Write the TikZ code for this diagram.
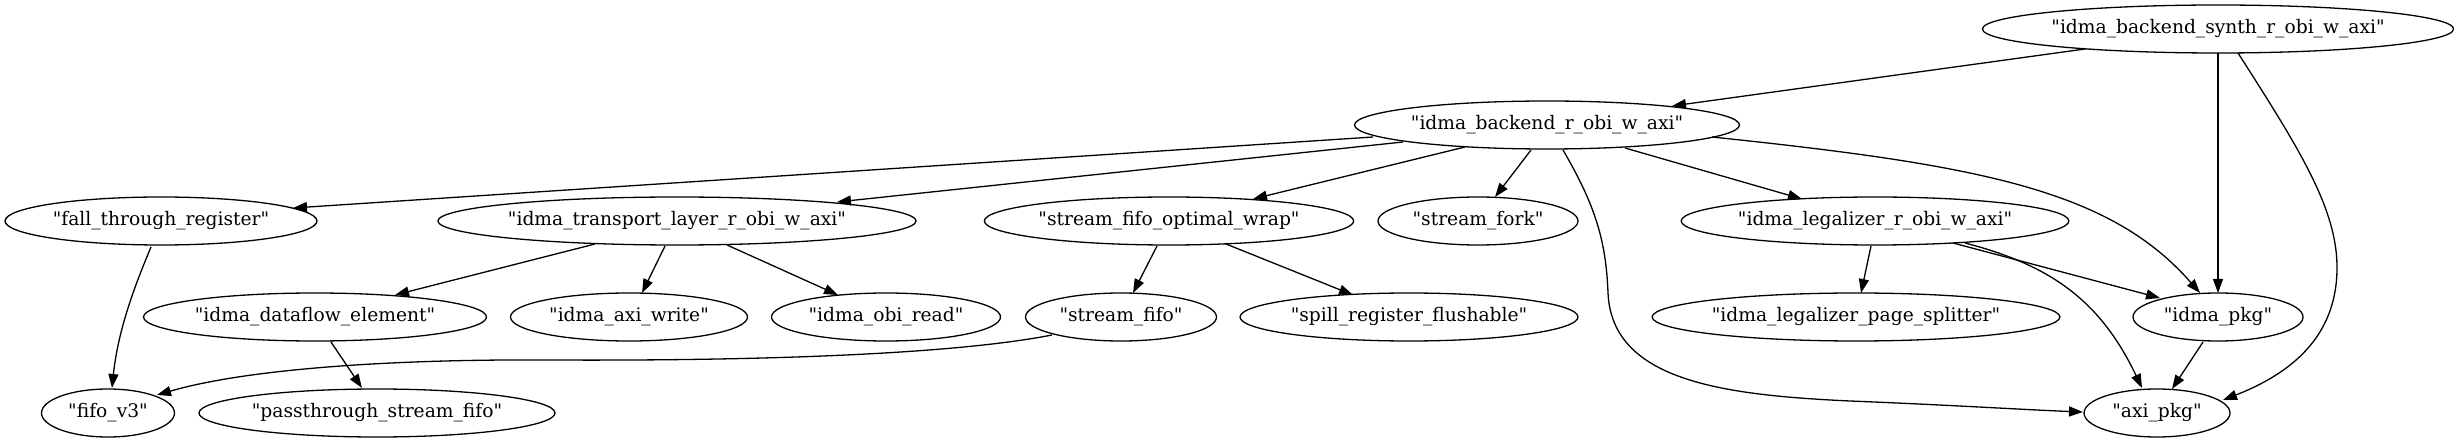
\documentclass[tikz,border=0pt]{standalone}
\usepackage{fontspec}
\setmainfont{DejaVu Serif}[Ligatures=TeXOff]
\usetikzlibrary{shapes.geometric,arrows.meta,calc}
\begin{document}
\begin{tikzpicture}[x=1pt,y=-1pt,
  mod/.style={ellipse,draw,line width=1.3pt,inner sep=0pt,outer sep=0pt,minimum height=48pt,
    font=\fontsize{18.67pt}{22pt}\selectfont},
  edge/.style={line width=1.3pt,-{Triangle[length=14pt,width=10pt]}}]
\useasboundingbox (0,0) rectangle (2454,443);
\node[mod,minimum width=461pt] (synth) at (2218,29) {"idma\_backend\_synth\_r\_obi\_w\_axi"};
\node[mod,minimum width=381pt] (backend) at (1547,125) {"idma\_backend\_r\_obi\_w\_axi"};
\node[mod,minimum width=312pt] (ftr) at (161,221) {"fall\_through\_register"};
\node[mod,minimum width=470pt] (transport) at (677,221) {"idma\_transport\_layer\_r\_obi\_w\_axi"};
\node[mod,minimum width=369pt] (sfow) at (1169,221) {"stream\_fifo\_optimal\_wrap"};
\node[mod,minimum width=200pt] (fork) at (1478,221) {"stream\_fork"};
\node[mod,minimum width=384pt] (legal) at (1875,221) {"idma\_legalizer\_r\_obi\_w\_axi"};
\node[mod,minimum width=343pt] (dataflow) at (315,317) {"idma\_dataflow\_element"};
\node[mod,minimum width=237pt] (axiw) at (629,317) {"idma\_axi\_write"};
\node[mod,minimum width=229pt] (obir) at (886,317) {"idma\_obi\_read"};
\node[mod,minimum width=191pt] (sfifo) at (1121,317) {"stream\_fifo"};
\node[mod,minimum width=338pt] (spill) at (1409,317) {"spill\_register\_flushable"};
\node[mod,minimum width=405pt] (splitter) at (1856,317) {"idma\_legalizer\_page\_splitter"};
\node[mod,minimum width=170pt] (ipkg) at (2218,317) {"idma\_pkg"};
\node[mod,minimum width=133pt] (fifov3) at (108,413) {"fifo\_v3"};
\node[mod,minimum width=356pt] (pass) at (377,413) {"passthrough\_stream\_fifo"};
\node[mod,minimum width=146pt] (axipkg) at (2157,413) {"axi\_pkg"};

\draw[edge] ($(synth)+(-133,20)$) -- ($(backend)+(125,-19)$);
\draw[edge] ($(synth)+(0,24)$) -- ($(ipkg)+(0,-24)$);
\draw[edge] ($(synth)+(20,24)$) .. controls (2300,150) and (2338,210) .. (2337,270)
  .. controls (2336,330) and (2300,370) .. ($(axipkg)+(66,-13)$);
\draw[edge] ($(backend)+(-174,12)$) -- ($(ftr)+(132,-13)$);
\draw[edge] ($(backend)+(-144,17)$) -- ($(transport)+(160,-19)$);
\draw[edge] ($(backend)+(-82,22)$) -- ($(sfow)+(84,-22)$);
\draw[edge] ($(backend)+(-16,25)$) -- ($(fork)+(17,-24)$);
\draw[edge] ($(backend)+(78,23)$) -- ($(legal)+(-73,-22)$);
\draw[edge] ($(backend)+(165,12)$) .. controls (1980,165) and (2110,190) .. ($(ipkg)+(-18,-24)$);
\draw[edge] ($(backend)+(16,25)$) .. controls (1595,205) and (1606,240) .. (1608,293)
  .. controls (1612,380) and (1720,395) .. (1850,401)
  .. controls (1950,405) and (2030,410) .. ($(axipkg)+(-74,-1)$);
\draw[edge] ($(ftr)+(-10,26)$) .. controls (135,285) and (118,330) .. ($(fifov3)+(4,-25)$);
\draw[edge] ($(transport)+(-82,23)$) -- ($(dataflow)+(80,-22)$);
\draw[edge] ($(transport)+(-12,25)$) -- ($(axiw)+(13,-24)$);
\draw[edge] ($(transport)+(50,24)$) -- ($(obir)+(-48,-22)$);
\draw[edge] ($(sfow)+(-12,25)$) -- ($(sfifo)+(12,-24)$);
\draw[edge] ($(sfow)+(57,23)$) -- ($(spill)+(-56,-22)$);
\draw[edge] ($(sfifo)+(-69,18)$) .. controls (950,355) and (750,361) .. (550,360)
  .. controls (400,359) and (250,368) .. ($(fifov3)+(49,-18)$);
\draw[edge] ($(dataflow)+(16,25)$) -- ($(pass)+(-15,-25)$);
\draw[edge] ($(legal)+(-4,25)$) -- ($(splitter)+(5,-24)$);
\draw[edge] ($(legal)+(78,22)$) -- ($(ipkg)+(-58,-19)$);
\draw[edge] ($(legal)+(90,22)$) .. controls (2050,265) and (2100,300) .. ($(axipkg)+(-15,-25)$);
\draw[edge] ($(ipkg)+(-15,25)$) -- ($(axipkg)+(15,-24)$);
\end{tikzpicture}
\end{document}
